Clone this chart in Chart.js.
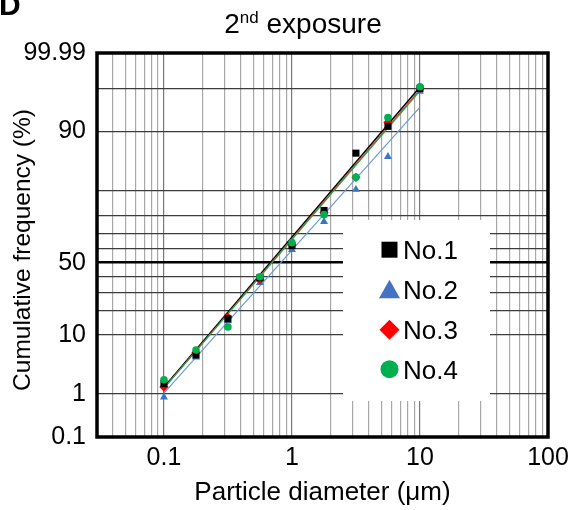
<!DOCTYPE html>
<html><head><meta charset="utf-8">
<script src="https://cdn.jsdelivr.net/npm/chart.js@4.4.0/dist/chart.umd.min.js"></script>
<style>html,body{margin:0;padding:0;background:#fff}canvas{display:block}</style>
</head><body>
<canvas id="c" width="572" height="510" style="width:572px;height:510px"></canvas>
<script>
// ---- data ----
const diameters = [0.1, 0.178, 0.316, 0.562, 1, 1.78, 3.16, 5.62, 10];
const seriesNames = ['No.1', 'No.2', 'No.3', 'No.4'];
const no1 = [1.6, 5.1, 16.0, 39.5, 61.9, 82.3, 97.4, 99.22, 99.9];
const no2 = [0.86, 4.7, 15.1, 36.1, 59.1, 76.7, 90.3, 97.0, 99.88];
const no3 = [1.37, 5.5, 16.8, 38.1, 62.6, 81.3, 93.5, 99.36, 99.9];
const no4 = [1.9, 6.1, 12.7, 40.2, 63.9, 80.3, 93.5, 99.5, 99.91];
const fitDiameters = [0.1, 10];
const fit1 = [1.37, 99.908];
const fit2 = [1.04, 99.709];
const fit3 = [1.31, 99.893];
const fit4 = [1.31, 99.885];
const yGridPercents = [0.1, 1, 10, 20, 30, 40, 50, 60, 70, 80, 90, 99, 99.9, 99.99];
const yTickLabels = ['0.1', '1', '10', '', '', '', '50', '', '', '', '', '90', '', '99.99'];
const xGridValues = [0.03,0.04,0.05,0.06,0.07,0.08,0.09,0.1,0.2,0.3,0.4,0.5,0.6,0.7,0.8,0.9,
  1,2,3,4,5,6,7,8,9,10,20,30,40,50,60,70,80,90,100];
const xTickLabels = {0.1:'0.1', 1:'1', 10:'10', 100:'100'};
const titleMain = '2', titleSup = 'nd', titleRest = ' exposure';
const xTitle = 'Particle diameter (\u03bcm)';
const yTitle = 'Cumulative frequency (%)';

// inverse normal CDF (probability scale)
function probit(p) {
  const a=[-3.969683028665376e+01,2.209460984245205e+02,-2.759285104469687e+02,1.383577518672690e+02,-3.066479806614716e+01,2.506628277459239e+00];
  const b=[-5.447609879822406e+01,1.615858368580409e+02,-1.556989798598866e+02,6.680131188771972e+01,-1.328068155288572e+01];
  const c=[-7.784894002430293e-03,-3.223964580411365e-01,-2.400758277161838e+00,-2.549732539343734e+00,4.374664141464968e+00,2.938163982698783e+00];
  const d=[7.784695709041462e-03,3.224671290700398e-01,2.445134137142996e+00,3.754408661907416e+00];
  const pl=0.02425, ph=1-pl; let q,r;
  if (p<pl){q=Math.sqrt(-2*Math.log(p));return (((((c[0]*q+c[1])*q+c[2])*q+c[3])*q+c[4])*q+c[5])/((((d[0]*q+d[1])*q+d[2])*q+d[3])*q+1);}
  if (p<=ph){q=p-0.5;r=q*q;return (((((a[0]*r+a[1])*r+a[2])*r+a[3])*r+a[4])*r+a[5])*q/(((((b[0]*r+b[1])*r+b[2])*r+b[3])*r+b[4])*r+1);}
  q=Math.sqrt(-2*Math.log(1-p));return -(((((c[0]*q+c[1])*q+c[2])*q+c[3])*q+c[4])*q+c[5])/((((d[0]*q+d[1])*q+d[2])*q+d[3])*q+1);
}
const z = pct => probit(pct / 100);
const toPts = (xs, ys) => xs.map((x, i) => ({x: x, y: z(ys[i])}));

const markerColors = ['#000000', '#3a76c8', '#ff0000', '#00b050'];
const lineColors = ['#000000', '#6c9bd6', '#ff2020', '#1aa850'];
const styles = ['rect', 'triangle', 'rectRot', 'circle'];
const radii = [5, 4.6, 4.6, 3.8];
const seriesVals = [no1, no2, no3, no4];
const fits = [fit1, fit2, fit3, fit4];
const drawOrder = [1, 3, 2, 0];

const datasets = [];
seriesVals.forEach((vals, i) => {
  datasets.push({
    label: seriesNames[i], data: toPts(diameters, vals), showLine: false,
    pointStyle: styles[i], pointRadius: radii[i], pointBackgroundColor: markerColors[i],
    pointBorderColor: markerColors[i], pointBorderWidth: 0, order: drawOrder[i]
  });
});
fits.forEach((f, i) => {
  datasets.push({
    label: seriesNames[i] + ' fit', data: toPts(fitDiameters, f), showLine: true,
    borderColor: lineColors[i], borderWidth: i === 0 ? 1.5 : 1.2, pointRadius: 0, order: 10 + (3 - i)
  });
});

const FONT = "'Liberation Sans', Arial, sans-serif";
const yMinZ = z(yGridPercents[0]), yMaxZ = z(yGridPercents[yGridPercents.length - 1]);

const decor = {
  id: 'decor',
  beforeDatasetsDraw(chart) {
    const ctx = chart.ctx;
    ctx.save(); ctx.fillStyle = '#fff'; ctx.fillRect(343, 220, 147, 181); ctx.restore();
  },
  afterDraw(chart) {
    const {ctx, chartArea: a} = chart;
    ctx.save();
    ctx.strokeStyle = '#000'; ctx.lineWidth = 3.5;
    ctx.strokeRect(a.left, a.top, a.right - a.left, a.bottom - a.top);
    // panel letter
    ctx.fillStyle = '#000'; ctx.textBaseline = 'alphabetic'; ctx.textAlign = 'left';
    ctx.font = 'bold 30px ' + FONT; ctx.fillText('D', -1, 15);
    // title with superscript
    ctx.font = '28px ' + FONT; const w1 = ctx.measureText(titleMain).width;
    ctx.font = '17px ' + FONT; const w2 = ctx.measureText(titleSup).width;
    ctx.font = '28px ' + FONT; const w3 = ctx.measureText(titleRest).width;
    let x = 303 - (w1 + w2 + w3) / 2; const base = 33;
    ctx.font = '28px ' + FONT; ctx.fillText(titleMain, x, base); x += w1;
    ctx.font = '17px ' + FONT; ctx.fillText(titleSup, x, base - 10); x += w2;
    ctx.font = '28px ' + FONT; ctx.fillText(titleRest, x, base);
    // y axis title
    ctx.save();
    ctx.translate(23, 250); ctx.rotate(-Math.PI / 2);
    ctx.font = '24.5px ' + FONT; ctx.textAlign = 'center'; ctx.textBaseline = 'middle';
    ctx.fillText(yTitle, 0, 0);
    ctx.restore();
    // legend
    const rows = [259, 298.5, 339, 378.5];
    ctx.font = '26px ' + FONT; ctx.textAlign = 'left'; ctx.textBaseline = 'alphabetic';
    seriesNames.forEach((n, i) => {
      const cy = rows[i] - 9.3, cx = 389.5;
      ctx.fillStyle = i === 1 ? '#4472c4' : markerColors[i];
      ctx.beginPath();
      if (i === 0) ctx.rect(cx - 8, cy - 8, 16, 16);
      else if (i === 1) { ctx.moveTo(cx - 10.5, cy + 9); ctx.lineTo(cx + 10.5, cy + 9); ctx.lineTo(cx, cy - 9.5); ctx.closePath(); }
      else if (i === 2) { ctx.moveTo(cx, cy - 10); ctx.lineTo(cx + 10, cy); ctx.lineTo(cx, cy + 10); ctx.lineTo(cx - 10, cy); ctx.closePath(); }
      else ctx.arc(cx, cy, 9, 0, Math.PI * 2);
      ctx.fill();
      ctx.fillStyle = '#000';
      ctx.fillText(n, 403, rows[i]);
    });
    ctx.restore();
  }
};

new Chart(document.getElementById('c'), {
  type: 'scatter',
  data: {datasets},
  plugins: [decor],
  options: {
    responsive: false, animation: false, devicePixelRatio: 1,
    layout: {padding: {top: 53, right: 24, left: 0, bottom: 0}},
    plugins: {legend: {display: false}, tooltip: {enabled: false}, title: {display: false}},
    scales: {
      x: {
        type: 'logarithmic', min: 0.03, max: 100,
        afterBuildTicks: s => { s.ticks = xGridValues.map(v => ({value: v})); },
        afterFit: s => { s.height = 73; s.paddingLeft = 0; s.paddingRight = 0; },
        ticks: {autoSkip: false, maxRotation: 0, padding: 6, color: '#000', font: {family: FONT, size: 25},
          callback: (v) => xTickLabels[v] !== undefined ? xTickLabels[v] : ''},
        grid: {drawTicks: false, color: c => ([0.1, 1, 10].includes(c.tick && c.tick.value) ? '#7a7a7a' : '#a8a8a8'), lineWidth: 1.2},
        border: {display: false},
        title: {display: true, text: xTitle, color: '#000', font: {family: FONT, size: 26}, padding: {top: 0, bottom: 2}}
      },
      y: {
        type: 'linear', min: yMinZ, max: yMaxZ,
        afterBuildTicks: s => { s.ticks = yGridPercents.map(p => ({value: z(p)})); },
        afterFit: s => { s.width = 97; s.paddingTop = 0; s.paddingBottom = 0; },
        ticks: {autoSkip: false, padding: 11, color: '#000', font: {family: FONT, size: 25},
          callback: (v, i) => yTickLabels[i]},
        grid: {drawTicks: false,
          color: c => (c.index === 6 ? '#000' : '#3c3c3c'),
          lineWidth: c => (c.index === 6 ? 2.6 : 1.2)},
        border: {display: false},
        title: {display: false}
      }
    }
  }
});
</script>
</body></html>
